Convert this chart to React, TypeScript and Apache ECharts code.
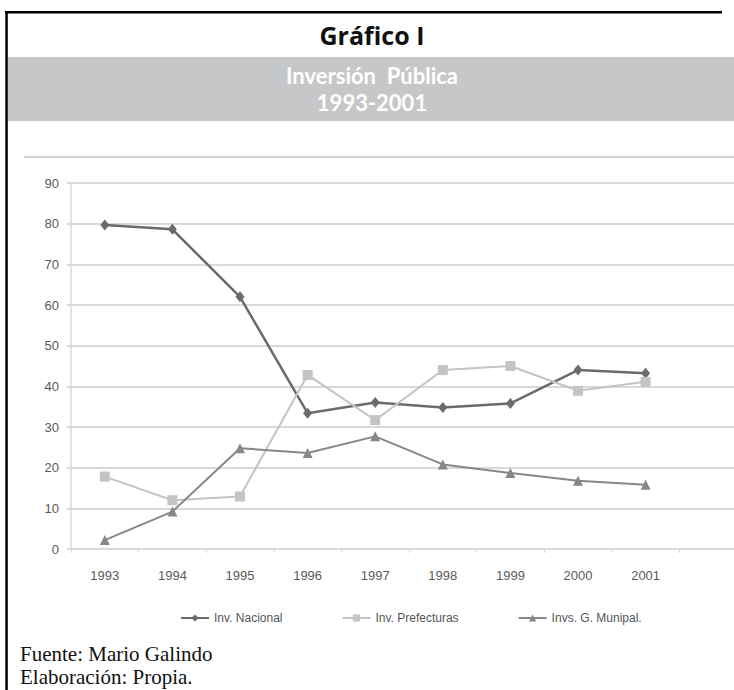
import React, { useEffect, useRef } from "react";
import * as echarts from "echarts";

const years = ["1993", "1994", "1995", "1996", "1997", "1998", "1999", "2000", "2001", ""];
const nacional = [79.7, 78.6, 62, 33.4, 36, 34.8, 35.8, 44, 43.2];
const prefecturas = [17.8, 12, 12.9, 42.8, 31.7, 44, 45, 38.9, 41.1];
const municipal = [2.2, 9.2, 24.8, 23.6, 27.7, 20.8, 18.7, 16.8, 15.8];
const seriesNames = ["Inv. Nacional", "Inv. Prefecturas", "Invs. G. Munipal."];
const yTicks = { min: 0, max: 90, interval: 10 };

export default function App() {
  const ref = useRef<HTMLDivElement>(null);
  useEffect(() => {
    if (!ref.current) return;
    const chart = echarts.init(ref.current, null, { renderer: "svg" });
    const gridColor = "#d9d9d9";
    chart.setOption({
      animation: false,
      backgroundColor: "#ffffff",
      graphic: [
        { type: "rect", shape: { x: 8, y: 57, width: 752, height: 64 }, style: { fill: "#c6c7c8" } },
        { type: "rect", shape: { x: 5, y: 11, width: 717, height: 2.5 }, style: { fill: "#000" } },
        { type: "rect", shape: { x: 5.3, y: 11, width: 2.5, height: 679 }, style: { fill: "#000" } },
        { type: "rect", shape: { x: 24, y: 156, width: 736, height: 2 }, style: { fill: "#d3d3d3" } },
        {
          type: "text", x: 372, y: 35,
          style: { text: "Gráfico I", font: "bold 25px 'Open Sans'", fill: "#111", align: "center", verticalAlign: "middle" },
        },
        {
          type: "text", x: 372, y: 75.5,
          style: { text: "Inversión  Pública", font: "bold 22px Lato", fill: "#ffffff", align: "center", verticalAlign: "middle" },
        },
        {
          type: "text", x: 372, y: 102,
          style: { text: "1993-2001", font: "bold 22px Lato", fill: "#ffffff", align: "center", verticalAlign: "middle" },
        },
        {
          type: "text", x: 20, y: 654,
          style: { text: "Fuente: Mario Galindo", font: "21px 'Liberation Serif'", fill: "#111", align: "left", verticalAlign: "middle" },
        },
        {
          type: "text", x: 20, y: 677,
          style: { text: "Elaboración: Propia.", font: "21px 'Liberation Serif'", fill: "#111", align: "left", verticalAlign: "middle" },
        },
      ],
      legend: {
        left: 175,
        top: 607,
        itemGap: 59,
        itemWidth: 28,
        itemHeight: 9,
        textStyle: { fontFamily: "Liberation Sans", fontSize: 12, color: "#555" },
        data: seriesNames,
      },
      grid: { left: 71, right: 13, top: 183, bottom: 141, containLabel: false },
      xAxis: {
        type: "category",
        data: years,
        boundaryGap: true,
        axisLine: { lineStyle: { color: gridColor, width: 2 } },
        axisTick: { show: true, length: 4, lineStyle: { color: gridColor, width: 1 } },
        axisLabel: { margin: 20, fontFamily: "Liberation Sans", fontSize: 13, color: "#5a5a5a" },
        splitLine: { show: false },
      },
      yAxis: {
        type: "value",
        min: yTicks.min,
        max: yTicks.max,
        interval: yTicks.interval,
        axisLine: { show: true, lineStyle: { color: gridColor, width: 1.5 } },
        axisTick: { show: true, length: 4, lineStyle: { color: gridColor, width: 2 } },
        axisLabel: { margin: 12, fontFamily: "Liberation Sans", fontSize: 13, color: "#5a5a5a" },
        splitLine: { lineStyle: { color: gridColor, width: 2 } },
      },
      series: [
        {
          name: seriesNames[0],
          type: "line",
          data: nacional,
          symbol: "diamond",
          symbolSize: [9, 11],
          itemStyle: { color: "#6b6b6b" },
          lineStyle: { color: "#6b6b6b", width: 2.5 },
        },
        {
          name: seriesNames[1],
          type: "line",
          data: prefecturas,
          symbol: "rect",
          symbolSize: 10,
          itemStyle: { color: "#c4c4c4" },
          lineStyle: { color: "#c4c4c4", width: 2 },
        },
        {
          name: seriesNames[2],
          type: "line",
          data: municipal,
          symbol: "triangle",
          symbolSize: 10,
          itemStyle: { color: "#878787" },
          lineStyle: { color: "#878787", width: 2 },
        },
      ],
    });
    return () => chart.dispose();
  }, []);
  return (
    <div style={{ position: "absolute", left: 0, top: 0, width: 734, height: 690, overflow: "hidden" }}>
      <div ref={ref} style={{ width: 760, height: 690 }} />
    </div>
  );
}
